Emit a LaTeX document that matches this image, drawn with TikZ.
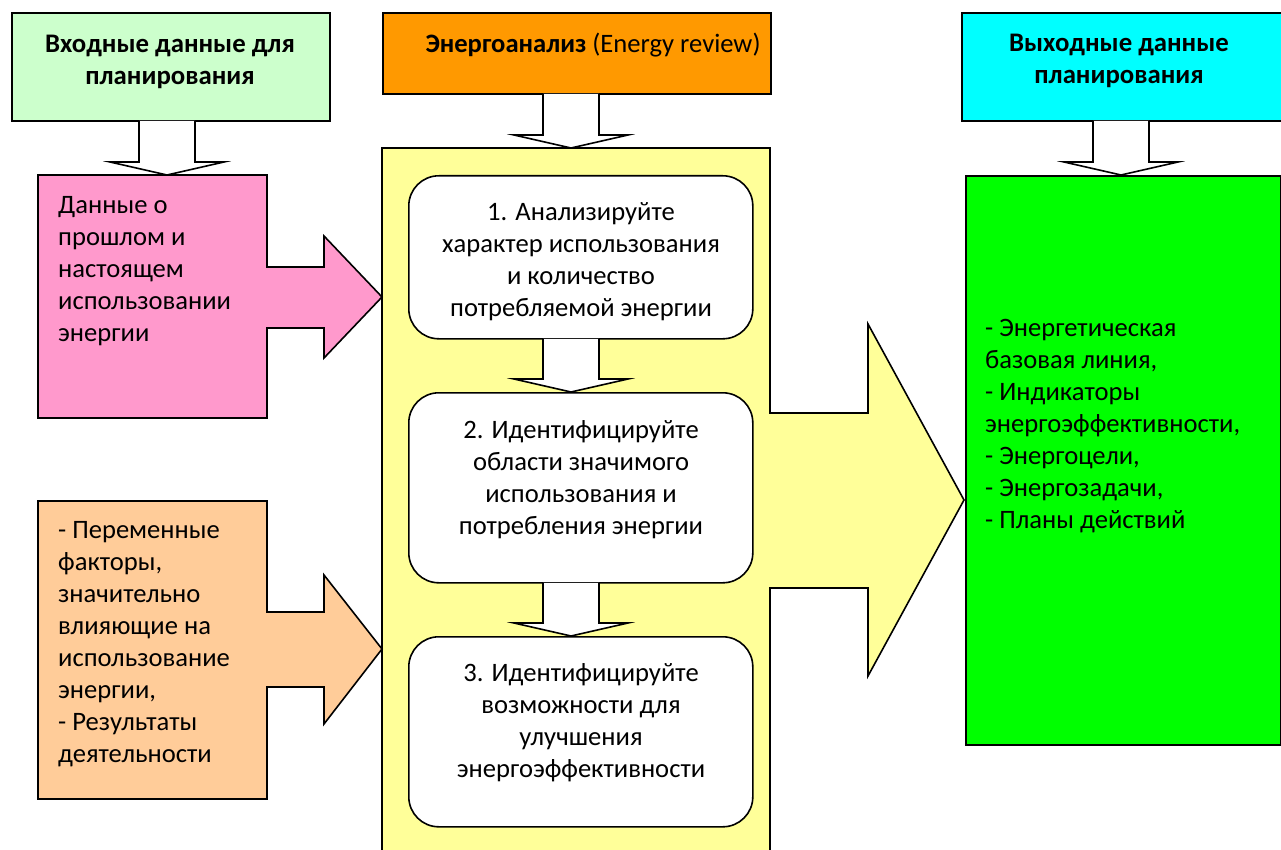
\documentclass[tikz,border=0pt]{standalone}
\usepackage{fontspec}
\setmainfont{Carlito}
\definecolor{inlight}{HTML}{CCFFCC}
\definecolor{revorange}{HTML}{FF9900}
\definecolor{outcyan}{HTML}{00FFFF}
\definecolor{pastpink}{HTML}{FF99CC}
\definecolor{peach}{HTML}{FFCC99}
\definecolor{paleyellow}{HTML}{FFFF99}
\definecolor{brightgreen}{HTML}{00FF00}
\tikzset{
  blockline/.style={draw=black, line width=1.6pt, line join=miter},
  boxnode/.style={draw=black, line width=1.6pt, rectangle, inner sep=0pt, anchor=north west},
  stepbox/.style={draw=black, line width=1.6pt, rectangle, rounded corners=30pt, fill=white, inner sep=0pt, anchor=north west, minimum width=344pt},
  txt/.style={font=\fontsize{26.6}{32}\selectfont, inner sep=0pt, text=black},
  ttl/.style={txt, font=\fontsize{26.8}{32}\selectfont\bfseries, align=center}
}
\newcommand\hollowarrow[4]{%
  \draw[blockline, fill=white] (#1-28,#2) -- (#1-28,#3) -- (#1-57,#3) -- (#1,#4) -- (#1+57,#3) -- (#1+28,#3) -- (#1+28,#2);}
\begin{document}
\begin{tikzpicture}[x=1pt,y=-1pt]
\useasboundingbox (0,0) rectangle (1281,850);
% yellow energy review region with output arrow
\draw[blockline, fill=paleyellow] (382,870) -- (382,148) -- (770,148) -- (770,413) -- (868,413) -- (868,324) -- (964,500) -- (868,676) -- (868,588) -- (770,588) -- (770,870);
% left input shapes with arrows
\draw[blockline, fill=pastpink] (38,175) -- (267,175) -- (267,267) -- (324,267) -- (324,236) -- (382,297) -- (324,358) -- (324,328) -- (267,328) -- (267,418) -- (38,418) -- cycle;
\draw[blockline, fill=peach] (38,501) -- (267,501) -- (267,612) -- (324,612) -- (324,575) -- (382,649) -- (324,724) -- (324,687) -- (267,687) -- (267,799) -- (38,799) -- cycle;
% header boxes
\node[boxnode, fill=inlight, minimum width=318pt, minimum height=108pt] (inhead) at (11,12) {};
\node[boxnode, fill=revorange, minimum width=388pt, minimum height=81pt] (revhead) at (382,12) {};
\node[boxnode, fill=outcyan, minimum width=320pt, minimum height=108pt] (outhead) at (961,12) {};
% output box
\node[boxnode, fill=brightgreen, minimum width=315pt, minimum height=569pt] (outbox) at (965,175) {};
% steps
\node[stepbox, minimum height=163pt] (s1) at (408,175) {};
\node[stepbox, minimum height=190pt] (s2) at (408,392) {};
\node[stepbox, minimum height=190pt] (s3) at (408,636) {};
% hollow arrows
\hollowarrow{167}{120.8}{162}{175}
\hollowarrow{571}{93.8}{135}{148}
\hollowarrow{1121}{120.8}{162}{175}
\hollowarrow{571}{338.8}{379}{392}
\hollowarrow{571}{582.8}{623}{636}
% texts
\node[ttl] (tin) at (170,61.5) {Входные данные для\\планирования};
\node[txt] (trev) at (593,45) {\textbf{Энергоанализ} (Energy review)};
\node[ttl] (tout) at (1119,61) {Выходные данные\\планирования};
\node[txt, align=left, anchor=west] (tpink) at (58,271.5) {Данные о\\прошлом и\\настоящем\\использовании\\энергии};
\node[txt, align=left, anchor=west] (tpeach) at (58,644.5) {- Переменные\\факторы,\\значительно\\влияющие на\\использование\\энергии,\\- Результаты\\деятельности};
\node[txt, align=left, anchor=west] (tgreen) at (985,426) {- Энергетическая\\базовая линия,\\- Индикаторы\\энергоэффективности,\\- Энергоцели,\\- Энергозадачи,\\- Планы действий};
\node[txt, align=center] (t1) at (581,261.5) {1. Анализируйте\\характер использования\\и количество\\потребляемой энергии};
\node[txt, align=center] (t2) at (581,480) {2. Идентифицируйте\\области значимого\\использования и\\потребления энергии};
\node[txt, align=center] (t3) at (581,723) {3. Идентифицируйте\\возможности для\\улучшения\\энергоэффективности};
\end{tikzpicture}
\end{document}
